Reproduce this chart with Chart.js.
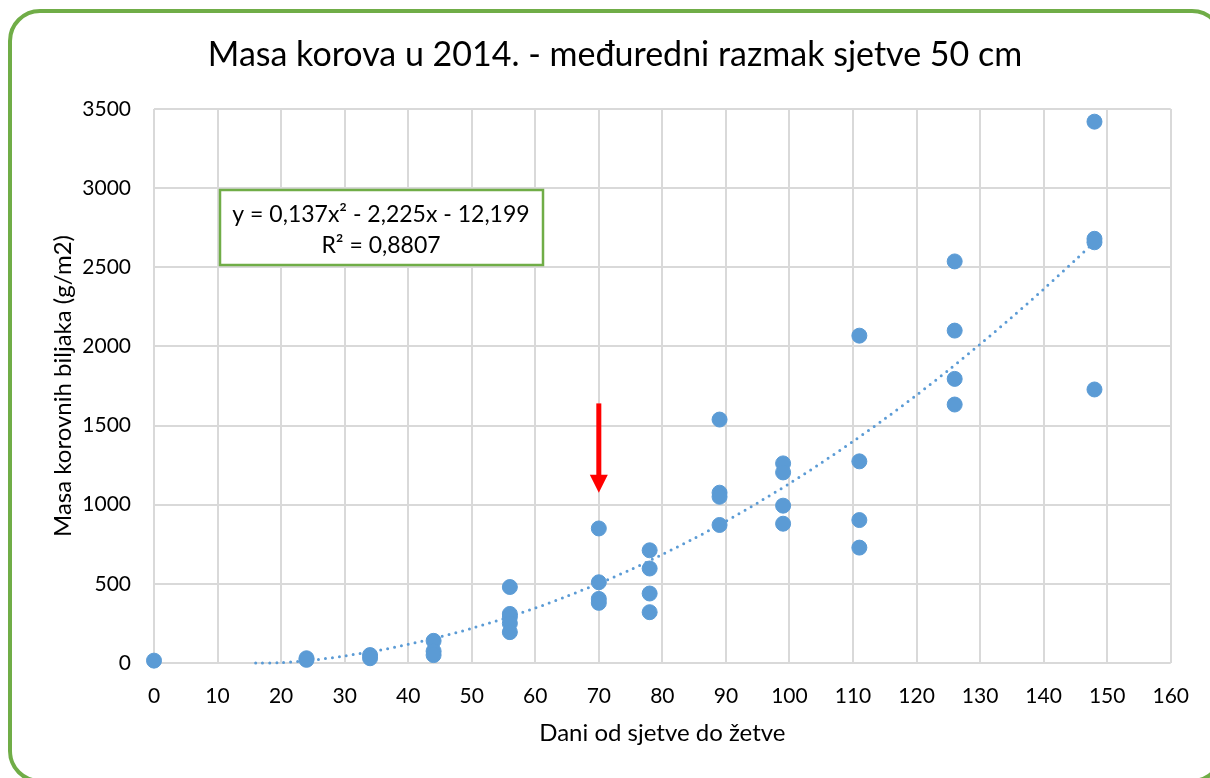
<!DOCTYPE html>
<html>
<head>
<meta charset="utf-8">
<script src="https://cdn.jsdelivr.net/npm/chart.js@4.4.1/dist/chart.umd.min.js"></script>
<style>
  html, body { margin: 0; padding: 0; background: #fff; overflow: hidden; }
  #frame {
    position: absolute; left: 8px; top: 9px; width: 1216px; height: 774px;
    border: 4px solid #70AD47; border-radius: 32px; box-sizing: border-box;
  }
  #wrap { position: absolute; left: 0; top: 0; width: 1210px; height: 778px; }
</style>
</head>
<body>
<div id="frame"></div>
<div id="wrap"><canvas id="chart" width="1210" height="778"></canvas></div>
<script>
// ── data ──
const days = [0, 24, 24, 34, 34, 44, 44, 44, 56, 56, 56, 56, 56, 70, 70, 70, 70,
  78, 78, 78, 78, 89, 89, 89, 89, 99, 99, 99, 99, 111, 111, 111, 111,
  126, 126, 126, 126, 148, 148, 148, 148];
const weedMass = [15, 30, 20, 50, 30, 140, 75, 50, 480, 310, 290, 250, 195, 850, 510, 405, 380,
  712, 597, 439, 321, 1538, 1076, 1050, 872, 1261, 1204, 994, 880, 2068, 1274, 903, 729,
  2537, 2100, 1795, 1633, 3420, 2680, 2658, 1728];

// dotted polynomial trendline
const trendDays = [16, 20, 25, 30, 35, 40, 45, 50, 55, 60, 65, 70, 75, 80, 85, 90, 95, 100,
  105, 110, 115, 120, 125, 130, 135, 140, 145, 148];
const trendMass = [0, 2, 18, 45, 77, 118, 165, 219, 280, 347, 422, 503, 590, 686, 787, 896, 1012, 1134,
  1264, 1400, 1543, 1693, 1850, 2014, 2185, 2362, 2547, 2660];

const xTicks = { min: 0, max: 160, step: 10 };
const yTicks = { min: 0, max: 3500, step: 500 };

const titleText = 'Masa korova u 2014. - međuredni razmak sjetve 50 cm';
const xTitle = 'Dani od sjetve do žetve';
const yTitle = 'Masa korovnih biljaka (g/m2)';
const eqLines = ['y = 0,137x² - 2,225x - 12,199', 'R² = 0,8807'];

// red arrow marking day 70
const arrowDay = 70, arrowFrom = 1640, arrowTo = 1075;

const FONT = 'Lato, "Open Sans", sans-serif';
const BLUE = '#5B9BD5';
const GRID = '#D9D9D9';

const overlay = {
  id: 'overlay',
  afterDatasetsDraw(chart) {
    const { ctx, scales: { x, y } } = chart;
    // arrow
    const ax = x.getPixelForValue(arrowDay);
    const y0 = y.getPixelForValue(arrowFrom);
    const y1 = y.getPixelForValue(arrowTo);
    ctx.save();
    ctx.fillStyle = '#FF0000';
    ctx.fillRect(ax - 2.5, y0, 5, (y1 - y0) - 16);
    ctx.beginPath();
    ctx.moveTo(ax - 9, y1 - 18);
    ctx.lineTo(ax + 9, y1 - 18);
    ctx.lineTo(ax, y1);
    ctx.closePath();
    ctx.fill();
    ctx.restore();
  },
  afterDraw(chart) {
    const { ctx, chartArea: a } = chart;
    ctx.save();
    ctx.fillStyle = '#000';
    ctx.textAlign = 'center';
    ctx.textBaseline = 'alphabetic';
    // title
    ctx.font = '34px ' + FONT;
    ctx.fillText(titleText, 615, 66);
    // axis titles
    ctx.font = '24px ' + FONT;
    ctx.fillText(xTitle, (a.left + a.right) / 2, 741);
    ctx.translate(71, (a.top + a.bottom) / 2);
    ctx.rotate(-Math.PI / 2);
    ctx.fillText(yTitle, 0, 0);
    ctx.restore();

    // equation box
    ctx.save();
    ctx.fillStyle = '#fff';
    ctx.fillRect(220, 190, 323, 75);
    ctx.strokeStyle = '#70AD47';
    ctx.lineWidth = 2.5;
    ctx.strokeRect(220, 190, 323, 75);
    ctx.fillStyle = '#000';
    ctx.font = '23px ' + FONT;
    ctx.textAlign = 'center';
    ctx.textBaseline = 'alphabetic';
    ctx.fillText(eqLines[0], 381, 222);
    ctx.fillText(eqLines[1], 381, 253);
    ctx.restore();
  }
};

new Chart(document.getElementById('chart'), {
  type: 'scatter',
  data: {
    datasets: [
      {
        label: 'trend',
        type: 'line',
        data: trendDays.map((d, i) => ({ x: d, y: trendMass[i] })),
        borderColor: BLUE,
        borderWidth: 3,
        borderDash: [0, 7],
        borderCapStyle: 'round',
        pointRadius: 0,
        tension: 0.3,
        fill: false,
        order: 2
      },
      {
        label: 'masa',
        data: days.map((d, i) => ({ x: d, y: weedMass[i] })),
        backgroundColor: BLUE,
        borderColor: BLUE,
        pointRadius: 7.5,
        pointHoverRadius: 7.5,
        order: 1
      }
    ]
  },
  options: {
    responsive: false,
    animation: false,
    events: [],
    clip: false,
    layout: { padding: { left: 0, right: 38, top: 109, bottom: 0 } },
    plugins: { legend: { display: false }, title: { display: false }, tooltip: { enabled: false } },
    scales: {
      x: {
        type: 'linear',
        min: xTicks.min, max: xTicks.max,
        ticks: { stepSize: xTicks.step, color: '#000', font: { family: FONT, size: 21 }, padding: 21, maxRotation: 0,
          callback: v => String(v) },
        grid: { color: GRID, lineWidth: 2, drawTicks: false },
        border: { display: false },
        afterFit(s) { s.height = 115; }
      },
      y: {
        min: yTicks.min, max: yTicks.max,
        ticks: { stepSize: yTicks.step, color: '#000', font: { family: FONT, size: 21 }, padding: 23,
          callback: v => String(v) },
        grid: { color: GRID, lineWidth: 2, drawTicks: false },
        border: { display: false },
        afterFit(s) { s.width = 154; }
      }
    }
  },
  plugins: [overlay]
});
</script>
</body>
</html>
